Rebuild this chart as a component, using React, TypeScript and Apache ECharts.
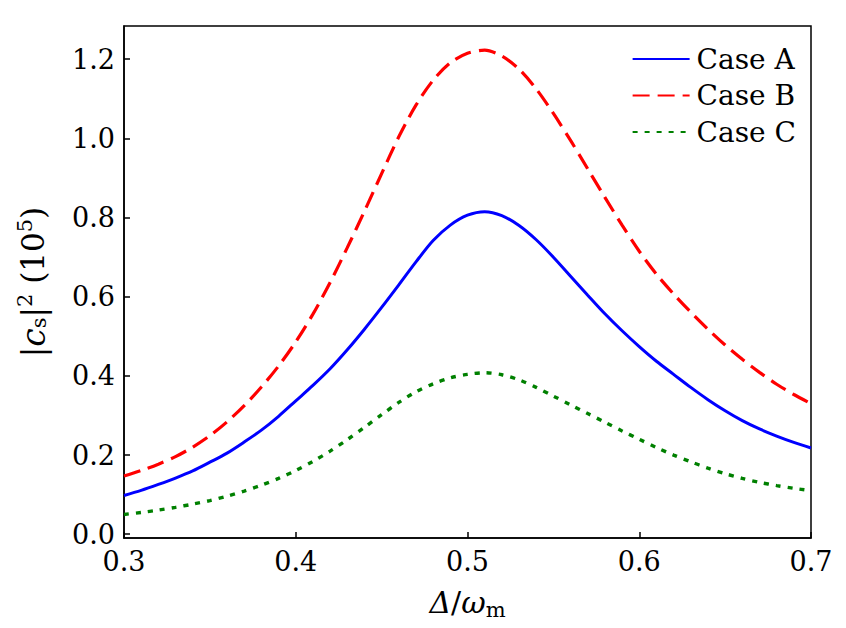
import React, { useEffect, useRef } from "react";
import * as echarts from "echarts";

const xValues = [
  0.3, 0.31, 0.32, 0.33, 0.34, 0.35, 0.36, 0.37, 0.38, 0.39, 0.4, 0.41, 0.42, 0.43, 0.44, 0.45, 0.46, 0.47, 0.48, 0.49, 0.5,
  0.51, 0.52, 0.53, 0.54, 0.55, 0.56, 0.57, 0.58, 0.59, 0.6, 0.61, 0.62, 0.63, 0.64, 0.65, 0.66, 0.67, 0.68, 0.69, 0.7,
];
const caseA = [
  0.098, 0.111, 0.126, 0.142, 0.16, 0.182, 0.205, 0.233, 0.263, 0.298, 0.337, 0.376, 0.418, 0.466, 0.518, 0.573, 0.63, 0.688, 0.742, 0.781, 0.806,
  0.815, 0.805, 0.78, 0.744, 0.7, 0.652, 0.604, 0.557, 0.514, 0.474, 0.437, 0.404, 0.371, 0.34, 0.312, 0.287, 0.266, 0.248, 0.232, 0.218,
];
const caseB = [
  0.147, 0.161, 0.177, 0.196, 0.22, 0.249, 0.284, 0.325, 0.372, 0.425, 0.486, 0.556, 0.636, 0.724, 0.816, 0.911, 1.004, 1.084, 1.147, 1.191, 1.215,
  1.223, 1.208, 1.175, 1.125, 1.063, 0.995, 0.923, 0.851, 0.781, 0.715, 0.657, 0.607, 0.561, 0.518, 0.478, 0.442, 0.409, 0.379, 0.353, 0.33,
];
const caseC = [
  0.05, 0.055, 0.061, 0.068, 0.076, 0.085, 0.096, 0.109, 0.124, 0.141, 0.161, 0.184, 0.21, 0.239, 0.27, 0.302, 0.333, 0.36, 0.38, 0.395, 0.404,
  0.408, 0.403, 0.39, 0.371, 0.349, 0.327, 0.305, 0.283, 0.261, 0.24, 0.219, 0.2, 0.183, 0.167, 0.153, 0.141, 0.131, 0.123, 0.116, 0.11,
];
const yTicks = [0, 0.2, 0.4, 0.6, 0.8, 1.0, 1.2];
const seriesNames = ["Case A", "Case B", "Case C"];

const FONT = "DejaVu Serif";

export default function App() {
  const ref = useRef<HTMLDivElement>(null);
  useEffect(() => {
    if (!ref.current) return;
    const chart = echarts.init(ref.current, null, { renderer: "svg" });
    const pair = (ys: number[]) => xValues.map((x, i) => [x, ys[i]]);
    chart.setOption({
      animation: false,
      backgroundColor: "#fff",
      textStyle: { fontFamily: FONT },
      grid: {
        left: 124,
        right: 35,
        top: 26,
        bottom: 90,
        show: true,
        borderColor: "#000",
        borderWidth: 1.5,
        backgroundColor: "transparent",
      },
      legend: {
        orient: "vertical",
        right: 45,
        top: 38,
        itemWidth: 57,
        itemHeight: 14,
        itemGap: 4.5,
        itemStyle: { opacity: 0 },
        textStyle: { fontFamily: FONT, fontSize: 28, color: "#000", lineHeight: 32, padding: [0, 0, 0, 2] },
        data: seriesNames,
      },
      xAxis: {
        type: "value",
        min: 0.3,
        max: 0.7,
        interval: 0.1,
        splitLine: { show: false },
        axisLine: { show: true, onZero: false, lineStyle: { color: "#000", width: 1.5 } },
        axisTick: { show: true, inside: true, length: 6, lineStyle: { color: "#000", width: 1.5 } },
        axisLabel: {
          color: "#000",
          fontFamily: FONT,
          fontSize: 27,
          margin: 10,
          formatter: (v: number) => v.toFixed(1),
        },
        name: "{i|Δ}/{i|ω}{sub|m}",
        nameLocation: "middle",
        nameGap: 47,
        nameTextStyle: {
          color: "#000",
          fontFamily: FONT,
          fontSize: 30,
          rich: {
            i: { fontFamily: FONT, fontSize: 30, fontStyle: "italic", color: "#000" },
            sub: { fontFamily: FONT, fontSize: 21, color: "#000", padding: [14, 0, 0, 0] },
          },
        },
      },
      yAxis: {
        type: "value",
        min: -0.0095,
        max: 1.284,
        splitLine: { show: false },
        axisLine: { show: true, onZero: false, lineStyle: { color: "#000", width: 1.5 } },
        axisTick: {
          show: true,
          inside: true,
          length: 6,
          customValues: yTicks,
          lineStyle: { color: "#000", width: 1.5 },
        },
        axisLabel: {
          color: "#000",
          fontFamily: FONT,
          fontSize: 27,
          margin: 9,
          customValues: yTicks,
          formatter: (v: number) => v.toFixed(1),
        },
        name: "|{i|c}{sub|s}|{sup|2} (10{sup|5})",
        nameLocation: "middle",
        nameRotate: 90,
        nameGap: 72,
        nameTextStyle: {
          color: "#000",
          fontFamily: FONT,
          fontSize: 31,
          rich: {
            i: { fontFamily: FONT, fontSize: 33, fontStyle: "italic", color: "#000" },
            sub: { fontFamily: FONT, fontSize: 21, color: "#000", padding: [12, 0, 0, 0] },
            sup: { fontFamily: FONT, fontSize: 21, color: "#000", padding: [0, 0, 17, 0] },
          },
        },
      },
      series: [
        {
          name: seriesNames[0],
          type: "line",
          data: pair(caseA),
          smooth: 0.3,
          showSymbol: false,
          symbol: "none",
          lineStyle: { color: "#0000ff", width: 3, type: "solid" },
          itemStyle: { color: "#0000ff" },
        },
        {
          name: seriesNames[1],
          type: "line",
          data: pair(caseB),
          smooth: 0.3,
          showSymbol: false,
          symbol: "none",
          lineStyle: { color: "#ff0000", width: 3.2, type: [17, 8] },
          itemStyle: { color: "#ff0000" },
        },
        {
          name: seriesNames[2],
          type: "line",
          data: pair(caseC),
          smooth: 0.3,
          showSymbol: false,
          symbol: "none",
          lineStyle: { color: "#008000", width: 3.4, type: [5, 7] },
          itemStyle: { color: "#008000" },
        },
      ],
    });
    return () => chart.dispose();
  }, []);
  return (
    <div
      ref={ref}
      style={{ position: "fixed", left: 0, top: 0, width: 846, height: 628, background: "#fff" }}
    />
  );
}
